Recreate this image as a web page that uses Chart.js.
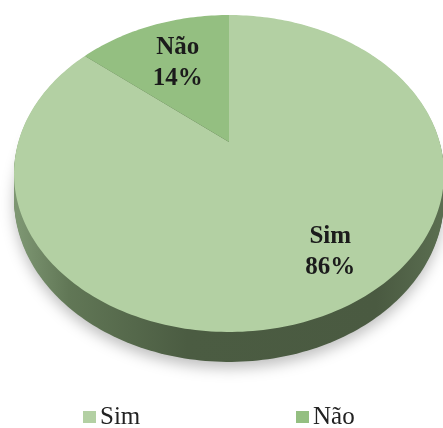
<!doctype html>
<html lang="pt">
  <head>
    <meta charset="utf-8">
    <title>Sim / Não</title>
    <style>
      body { margin: 0; background: #fff; }
      #wrap { width: 443px; height: 428px; }
    </style>
  </head>
  <body>
    <div id="wrap"><canvas id="chart"></canvas></div>
  </body>
</html>
<script src="https://cdn.jsdelivr.net/npm/chart.js"></script>
<script>
const labels = ['Sim', 'Não'];
const values = [86, 14];
const colors = ['#b3d0a3', '#94bf81'];

// perspective view of the disc
const view = { cx: 229, cy: 142, rx: 210.7, ry: 152.2, p: 0.1988, depth: 24 };
// where each data label sits, relative to the slice centroid
const labelShift = [[52, 34], [-10, -16]];

const serif = '"Liberation Serif", "Times New Roman", serif';

// point on the disc (unit radius, chart.js angle) -> screen
function project(a, f, drop) {
    const u = Math.cos(a) * f;
    const v = Math.sin(a) * f;
    const w = 1 - view.p * v;
    return {
        x: view.cx + view.rx * u / w,
        y: view.cy + (view.ry * v + (drop || 0)) / w
    };
}

function outline(ctx, a0, a1, drop, withCenter) {
    const steps = Math.max(8, Math.ceil((a1 - a0) / 0.02));
    if (withCenter) {
        const c = project(0, 0, drop);
        ctx.moveTo(c.x, c.y);
    }
    for (let i = 0; i <= steps; i++) {
        const q = project(a0 + (a1 - a0) * i / steps, 1, drop);
        if (i === 0 && !withCenter) ctx.moveTo(q.x, q.y);
        else ctx.lineTo(q.x, q.y);
    }
    ctx.closePath();
}

const pie3d = {
    id: 'pie3d',
    beforeDatasetsDraw(chart) {
        const { ctx } = chart;
        const arcs = chart.getDatasetMeta(0).data;
        const full = [-Math.PI / 2, Math.PI * 1.5];

        // soft shadow under the disc
        ctx.save();
        ctx.filter = 'blur(7px)';
        ctx.fillStyle = 'rgba(0,0,0,0.25)';
        ctx.beginPath();
        outline(ctx, full[0], full[1], view.depth + 5, false);
        ctx.fill();
        ctx.restore();

        // side wall, stacked from the bottom face up
        const side = ctx.createLinearGradient(view.cx - view.rx, 0, view.cx + view.rx, 0);
        side.addColorStop(0, '#7d9672');
        side.addColorStop(0.12, '#617756');
        side.addColorStop(0.4, '#4b5c42');
        side.addColorStop(0.85, '#4a5a41');
        side.addColorStop(1, '#5a6d50');
        ctx.save();
        ctx.fillStyle = side;
        for (let d = view.depth; d > 0; d--) {
            ctx.beginPath();
            outline(ctx, full[0], full[1], d, false);
            ctx.fill();
        }
        ctx.restore();

        // top face, one slice per arc element
        ctx.save();
        arcs.forEach((el, i) => {
            ctx.fillStyle = el.options.backgroundColor;
            ctx.beginPath();
            outline(ctx, el.startAngle, el.endAngle, 0, true);
            ctx.fill();
        });
        ctx.restore();
        return false;
    },
    afterDraw(chart) {
        const { ctx } = chart;
        const arcs = chart.getDatasetMeta(0).data;
        const total = values.reduce((s, v) => s + v, 0);

        // data labels
        ctx.save();
        ctx.fillStyle = '#1b1b1b';
        ctx.font = 'bold 25px ' + serif;
        ctx.textAlign = 'center';
        ctx.textBaseline = 'middle';
        arcs.forEach((el, i) => {
            const c = project((el.startAngle + el.endAngle) / 2, 0.5, 0);
            const px = c.x + labelShift[i][0];
            const py = c.y + labelShift[i][1];
            const pct = Math.round(values[i] / total * 100) + '%';
            ctx.fillText(labels[i], px, py - 15);
            ctx.fillText(pct, px, py + 16);
        });
        ctx.restore();

        // legend along the bottom
        const slots = [83, 296];
        ctx.save();
        ctx.font = '25px ' + serif;
        ctx.textBaseline = 'alphabetic';
        ctx.textAlign = 'left';
        labels.forEach((name, i) => {
            ctx.fillStyle = colors[i];
            ctx.fillRect(slots[i], 411, 13, 12);
            ctx.fillStyle = '#222';
            ctx.fillText(name, slots[i] + 17, 424);
        });
        ctx.restore();
    }
};

new Chart(document.getElementById('chart'), {
    type: 'pie',
    data: {
        labels: labels,
        datasets: [{
            data: values,
            backgroundColor: colors,
            borderWidth: 0
        }]
    },
    options: {
        responsive: true,
        maintainAspectRatio: false,
        animation: false,
        events: [],
        plugins: {
            legend: { display: false },
            tooltip: { enabled: false }
        }
    },
    plugins: [pie3d]
});
</script>
